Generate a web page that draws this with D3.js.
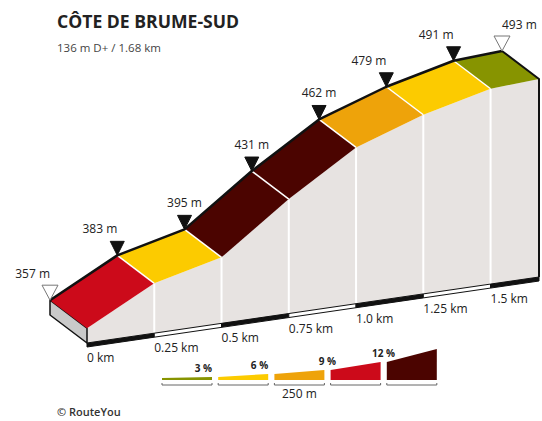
<!DOCTYPE html>
<html>
<head>
<meta charset="utf-8">
<script src="https://cdn.jsdelivr.net/npm/d3@7"></script>
<style>
  body { margin: 0; background: #fff; }
  text { font-family: "Open Sans", "Noto Sans", sans-serif; }
</style>
</head>
<body>
<div id="chart"></div>
<script>
// profile points (km, m)
var distances = [0, 0.25, 0.5, 0.75, 1.0, 1.25, 1.5, 1.68];
var elevations = [357, 383, 395, 431, 462, 479, 491, 493];
var tickKm = [0, 0.25, 0.5, 0.75, 1.0, 1.25, 1.5];
var tickLabels = ["0 km", "0.25 km", "0.5 km", "0.75 km", "1.0 km", "1.25 km", "1.5 km"];
// gradient classes
var gradeBreaks = [3, 6, 9, 12];
var gradeLabels = ["3 %", "6 %", "9 %", "12 %"];
var gradeColors = ["#879400", "#fccb00", "#eea30a", "#cc0a1a", "#4b0400"];
var baseElev = 346;

var width = 542, height = 421;

var svg = d3.select("#chart")
  .append("svg")
  .attr("width", width)
  .attr("height", height);

// oblique projection: distance runs up-right, elevation up, depth toward the viewer
var xKm = d3.scaleLinear().domain([0, 1.68]).range([0, 452]);
var riseKm = d3.scaleLinear().domain([0, 1.68]).range([0, -66]);
var yElev = d3.scaleLinear().domain([baseElev, 493]).range([0, -198]);
var origin = [50, 315], depth = [37, 28];

function pt(d, e, f) {
  return [origin[0] + xKm(d) + f * depth[0], origin[1] + riseKm(d) + yElev(e) + f * depth[1]];
}
var gradeColor = d3.scaleThreshold().domain(gradeBreaks).range(gradeColors);
var line = d3.line();
var last = distances.length - 1;

// title
svg.append("text").attr("x", 57).attr("y", 28)
  .attr("font-size", 17.6).attr("font-weight", 700).attr("fill", "#222")
  .text("CÔTE DE BRUME-SUD");
svg.append("text").attr("x", 57).attr("y", 52)
  .attr("font-size", 11.5).attr("fill", "#444")
  .text((elevations[last] - elevations[0]) + " m D+ / " + distances[last].toFixed(2) + " km");

// front face
var frontPts = distances.map(function (d, i) { return pt(d, elevations[i], 1); })
  .concat(distances.slice().reverse().map(function (d) { return pt(d, baseElev, 1); }));
svg.append("path").attr("d", line(frontPts) + "Z").attr("fill", "#e7e3e1");

// white separators on front face
svg.selectAll(".sep").data(distances.slice(1, last)).join("path")
  .attr("class", "sep")
  .attr("d", function (d, i) { return line([pt(d, elevations[i + 1], 1), pt(d, baseElev, 1)]); })
  .attr("stroke", "#fff").attr("stroke-width", 2);

// left side face
svg.append("path")
  .attr("d", line([pt(0, elevations[0], 0), pt(0, elevations[0], 1), pt(0, baseElev, 1), pt(0, baseElev, 0)]) + "Z")
  .attr("fill", "#c9c9c9").attr("stroke", "#111").attr("stroke-width", 1.5).attr("stroke-linejoin", "round");

// scale bar along the base
var barKm = tickKm.concat([distances[last]]);
svg.selectAll(".bar").data(d3.pairs(barKm)).join("path")
  .attr("class", "bar")
  .attr("d", function (p) {
    var a = pt(p[0], baseElev, 1), b = pt(p[1], baseElev, 1);
    return line([a, b, [b[0], b[1] + 4], [a[0], a[1] + 4]]) + "Z";
  })
  .attr("fill", function (p, i) { return i % 2 == 0 ? "#111" : "#fff"; })
  .attr("stroke", "#111").attr("stroke-width", 1);

// top strip coloured by gradient
var segs = d3.range(last).map(function (i) {
  return { d0: distances[i], d1: distances[i + 1], e0: elevations[i], e1: elevations[i + 1],
    g: (elevations[i + 1] - elevations[i]) / ((distances[i + 1] - distances[i]) * 1000) * 100 };
});
svg.selectAll(".seg").data(segs).join("path")
  .attr("class", "seg")
  .attr("d", function (s) {
    return line([pt(s.d0, s.e0, 0), pt(s.d1, s.e1, 0), pt(s.d1, s.e1, 1), pt(s.d0, s.e0, 1)]) + "Z";
  })
  .attr("fill", function (s) { return gradeColor(s.g); });
svg.selectAll(".tsep").data(distances.slice(1, last)).join("path")
  .attr("class", "tsep")
  .attr("d", function (d, i) { return line([pt(d, elevations[i + 1], 0), pt(d, elevations[i + 1], 1)]); })
  .attr("stroke", "#fff").attr("stroke-width", 1.5);

// outline: back edge and right end
svg.append("path")
  .attr("d", line(distances.map(function (d, i) { return pt(d, elevations[i], 0); })))
  .attr("fill", "none").attr("stroke", "#111").attr("stroke-width", 2.5).attr("stroke-linejoin", "round");
svg.append("path")
  .attr("d", line([pt(distances[last], elevations[last], 0), pt(distances[last], elevations[last], 1), pt(distances[last], baseElev, 1)]))
  .attr("fill", "none").attr("stroke", "#111").attr("stroke-width", 2).attr("stroke-linejoin", "round");

// distance labels
svg.selectAll(".tick").data(tickKm).join("text")
  .attr("class", "tick")
  .attr("x", function (d) { return pt(d, baseElev, 1)[0]; })
  .attr("y", function (d) { return pt(d, baseElev, 1)[1] + 19; })
  .attr("font-size", 12).attr("fill", "#222")
  .text(function (d, i) { return tickLabels[i]; });

// markers
var anchors = ["end", "end", "middle", "middle", "middle", "end", "end", "start"];
distances.forEach(function (d, i) {
  var p = pt(d, elevations[i], 0);
  var hollow = (i == 0 || i == last);
  var w = hollow ? 8 : 7, h = hollow ? 15 : 14;
  svg.append("path")
    .attr("d", line([[p[0] - w, p[1] - h], [p[0] + w, p[1] - h], [p[0], p[1]]]) + "Z")
    .attr("fill", hollow ? "#fff" : "#111")
    .attr("stroke", hollow ? "#777" : "#111").attr("stroke-width", 1);
  svg.append("text")
    .attr("x", p[0]).attr("y", p[1] - 22)
    .attr("text-anchor", anchors[i])
    .attr("font-size", 12).attr("fill", "#222")
    .text(elevations[i] + " m");
});

// legend
var legendGrades = [0].concat(gradeBreaks).concat([15]);
var legH = d3.scaleLinear().domain([0, 3, 6, 9, 12, 15]).range([2, 3, 6, 10, 18, 31]);
var legX = d3.scaleLinear().domain([0, 5]).range([162, 443]);
var legW = 50, legBase = 380;
var leg = svg.append("g");
d3.range(5).forEach(function (i) {
  var x0 = legX(i), x1 = x0 + legW;
  leg.append("path")
    .attr("d", line([[x0, legBase - legH(legendGrades[i])], [x1, legBase - legH(legendGrades[i + 1])], [x1, legBase], [x0, legBase]]) + "Z")
    .attr("fill", gradeColors[i]);
  leg.append("path")
    .attr("d", line([[x0, legBase + 3], [x0, legBase + 5], [x1, legBase + 5], [x1, legBase + 3]]))
    .attr("fill", "none").attr("stroke", "#666").attr("stroke-width", 1);
});
gradeLabels.forEach(function (t, i) {
  var xEnd = legX(i) + legW;
  var top = legBase - legH(gradeBreaks[i]);
  leg.append("text")
    .attr("x", i < 2 ? xEnd : xEnd + 3)
    .attr("y", top - 5)
    .attr("text-anchor", i < 2 ? "end" : "middle")
    .attr("font-size", 10).attr("font-weight", 700).attr("fill", "#222")
    .text(t);
});
leg.append("text").attr("x", legX(2) + legW / 2).attr("y", 398)
  .attr("text-anchor", "middle").attr("font-size", 12).attr("fill", "#222")
  .text("250 m");

// footer
svg.append("text").attr("x", 57).attr("y", 416)
  .attr("font-size", 11).attr("font-weight", 600).attr("fill", "#333")
  .text("© RouteYou");
</script>
</body>
</html>
